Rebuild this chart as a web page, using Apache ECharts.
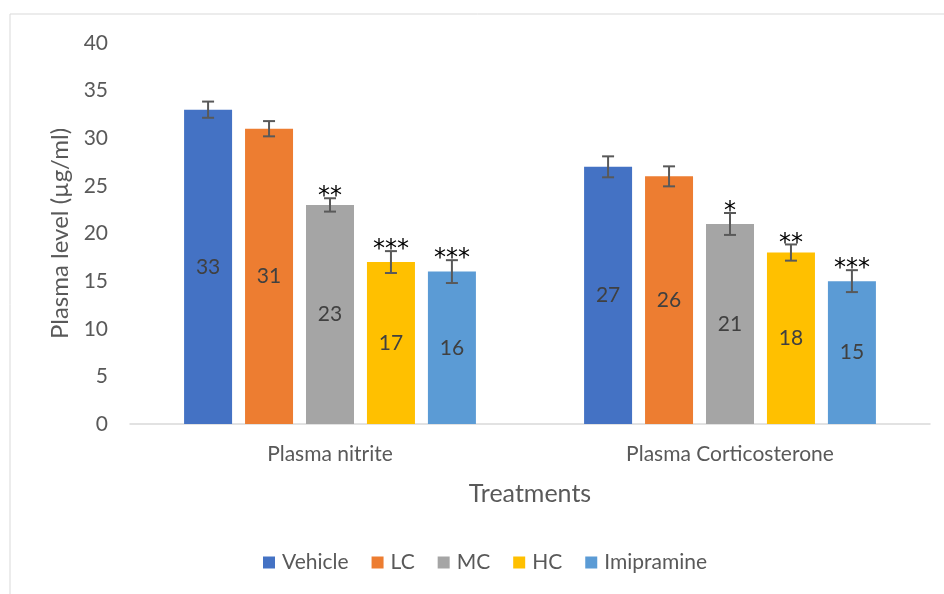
<!DOCTYPE html>
<html><head><meta charset="utf-8">
<script src="https://cdn.jsdelivr.net/npm/echarts@6/dist/echarts.min.js"></script>
<style>html,body{margin:0;padding:0;background:#fff}#c{width:944px;height:594px}</style>
</head><body><div id="c"></div>
<script>
const categories = ['Plasma nitrite', 'Plasma Corticosterone'];
const seriesNames = ['Vehicle', 'LC', 'MC', 'HC', 'Imipramine'];
const vehicle = [33, 27];
const lc = [31, 26];
const mc = [23, 21];
const hc = [17, 18];
const imipramine = [16, 15];
const vehicleErr = [0.85, 1.1];
const lcErr = [0.8, 1.05];
const mcErr = [0.7, 1.15];
const hcErr = [1.15, 0.85];
const imipramineErr = [1.2, 1.15];
const vehicleSig = ['', ''];
const lcSig = ['', ''];
const mcSig = ['**', '*'];
const hcSig = ['***', '**'];
const imipramineSig = ['***', '***'];
const yTicks = [0, 5, 10, 15, 20, 25, 30, 35, 40];

const values = [vehicle, lc, mc, hc, imipramine];
const errs = [vehicleErr, lcErr, mcErr, hcErr, imipramineErr];
const sigs = [vehicleSig, lcSig, mcSig, hcSig, imipramineSig];
const colors = ['#4472C4', '#ED7D31', '#A5A5A5', '#FFC000', '#5B9BD5'];
const FONT = 'Lato';
const BW = 48, GAP = 0.27;

const chart = echarts.init(document.getElementById('c'));
const series = [];
values.forEach((v, i) => {
  series.push({
    name: seriesNames[i], type: 'bar', data: v, barWidth: BW, barGap: (GAP*100)+'%',
    itemStyle: { color: colors[i] },
    label: { show: true, position: 'inside', color: '#404040', fontSize: 21, fontFamily: FONT },
    z: 2
  });
});
values.forEach((v, i) => {
  const data = v.map((val, k) => [k, val, errs[i][k], sigs[i][k]]);
  series.push({
    type: 'custom', data: data, z: 5, silent: true,
    encode: { x: 0, y: 1 },
    renderItem: function (params, api) {
      const k = api.value(0), val = api.value(1), e = api.value(2);
      const sig = data[params.dataIndex][3];
      const step = BW * (1 + GAP);
      const off = (i - 2) * step;
      const top = api.coord([k, val + e]);
      const bot = api.coord([k, val - e]);
      const x = top[0] + off;
      const cap = 6;
      const st = { stroke: '#595959', lineWidth: 2 };
      const children = [
        { type: 'line', shape: { x1: x, y1: top[1], x2: x, y2: bot[1] }, style: st },
        { type: 'line', shape: { x1: x - cap, y1: top[1], x2: x + cap, y2: top[1] }, style: st },
        { type: 'line', shape: { x1: x - cap, y1: bot[1], x2: x + cap, y2: bot[1] }, style: st }
      ];
      if (sig) {
        children.push({ type: 'text', style: { text: sig, x: x, y: top[1] + 11,
          align: 'center', verticalAlign: 'bottom', fill: '#000', fontSize: 24, fontFamily: 'DejaVu Sans', letterSpacing: 2 } });
      }
      return { type: 'group', children: children };
    }
  });
});

chart.setOption({
  animation: false,
  backgroundColor: '#fff',
  graphic: [{ type: 'rect', shape: { x: 10, y: 14, width: 960, height: 620 }, style: { fill: 'none', stroke: '#d9d9d9', lineWidth: 1 }, z: -1 }],
  grid: { left: 130, right: 14, top: 43, bottom: 170 },
  legend: {
    data: seriesNames, bottom: 16, left: 258, itemWidth: 12, itemHeight: 12, itemGap: 23,
    icon: 'rect',
    textStyle: { color: '#595959', fontSize: 21, fontFamily: FONT, padding: [0,0,0,2] }
  },
  xAxis: {
    type: 'category', data: categories,
    name: 'Treatments', nameLocation: 'middle', nameGap: 57,
    nameTextStyle: { color: '#595959', fontSize: 25, fontFamily: FONT },
    axisLine: { lineStyle: { color: '#d9d9d9', width: 1.5 } },
    axisTick: { show: false },
    axisLabel: { color: '#595959', fontSize: 21, fontFamily: FONT, margin: 20 }
  },
  yAxis: {
    type: 'value', min: yTicks[0], max: yTicks[yTicks.length - 1], interval: 5,
    name: 'Plasma level (µg/ml)', nameLocation: 'middle', nameGap: 56,
    nameTextStyle: { color: '#595959', fontSize: 24, fontFamily: FONT },
    axisLine: { show: false }, axisTick: { show: false }, splitLine: { show: false },
    axisLabel: { color: '#595959', fontSize: 21, fontFamily: FONT, margin: 22 }
  },
  series: series
});
</script></body></html>
